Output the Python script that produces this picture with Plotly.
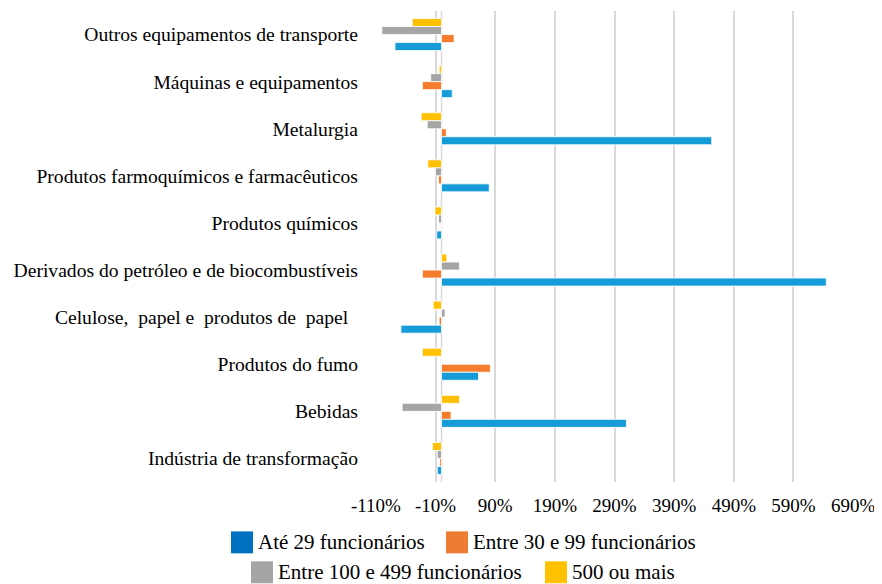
import plotly.graph_objects as go

categories = [
    "Outros equipamentos de transporte",
    "Máquinas e equipamentos",
    "Metalurgia",
    "Produtos farmoquímicos e farmacêuticos",
    "Produtos químicos",
    "Derivados do petróleo e de biocombustíveis",
    "Celulose,\u00a0 papel e\u00a0 produtos de\u00a0 papel\u00a0\u00a0",
    "Produtos do fumo",
    "Bebidas",
    "Indústria de transformação",
]

series_names = [
    "Até 29 funcionários",
    "Entre 30 e 99 funcionários",
    "Entre 100 e 499 funcionários",
    "500 ou mais",
]

ate_29 = [-78, 18, 453, 80, -8, 645, -68, 62, 310, -7]
entre_30_99 = [21, -32, 8, -5, 0, -32, -4, 82, 16, -3]
entre_100_499 = [-100, -18, -24, -10, -5, 30, 6, 0, -66, -7]
mais_500 = [-49, -4, -34, -23, -11, 9, -14, -32, 30, -15]

tick_vals = [-110, -10, 90, 190, 290, 390, 490, 590, 690]
tick_text = ["-110%", "-10%", "90%", "190%", "290%", "390%", "490%", "590%", "690%"]

bar_colors = ["#159BD8", "#F47C2C", "#A5A5A5", "#FFC000"]
legend_colors = ["#0070C0", "#ED7D31", "#A5A5A5", "#FFC000"]

values = [ate_29, entre_30_99, entre_100_499, mais_500]

fig = go.Figure()
# top of each group: 500 ou mais, then 100-499, 30-99, Até 29 (axis reversed)
for i in [3, 2, 1, 0]:
    fig.add_trace(go.Bar(
        y=categories, x=values[i], orientation="h", name=series_names[i],
        marker=dict(color=bar_colors[i], line=dict(color="rgba(255,255,255,0.8)", width=1)),
        showlegend=False,
    ))

FONT = "Liberation Serif"

# page body has an 8px margin: work in figure coordinates
OFF = 8
FW, FH = 882 - OFF, 584 - OFF
L, R, T, B = 375 - OFF, 854 - OFF, 10.5 - OFF, 482.5 - OFF
W, H = R - L, B - T


def px(xp):
    return (xp - OFF - L) / W


def py(yp):
    return (B - (yp - OFF)) / H


shapes = []
annotations = []
legend_items = [
    (0, 231, 532, 22),
    (1, 446, 532, 22),
    (2, 251, 562, 22),
    (3, 545, 562, 22),
]
for idx, x0, y0, s in legend_items:
    shapes.append(dict(type="rect", xref="paper", yref="paper",
                       x0=px(x0), x1=px(x0 + s), y0=py(y0 + s), y1=py(y0),
                       fillcolor=legend_colors[idx], line=dict(width=0)))
    annotations.append(dict(xref="paper", yref="paper", x=px(x0 + s + 4), y=py(y0 + s / 2),
                            xanchor="left", yanchor="middle", showarrow=False,
                            borderpad=0,
                            text=series_names[idx], font=dict(family=FONT, size=21, color="#000")))

# zero line
shapes.append(dict(type="line", xref="x", yref="paper", x0=0, x1=0, y0=0, y1=1,
                   line=dict(color="#D9D9D9", width=1.5), layer="below"))

fig.update_layout(
    width=FW, height=FH,
    margin=dict(l=L, r=FW - R, t=T, b=FH - B, autoexpand=False),
    paper_bgcolor="white", plot_bgcolor="white",
    barmode="group", bargap=0.32, bargroupgap=0,
    font=dict(family=FONT, size=20, color="#000"),
    shapes=shapes, annotations=annotations,
    xaxis=dict(range=[-111.5, 691.5], tickvals=tick_vals, ticktext=tick_text,
               showgrid=True, gridcolor="#D9D9D9", gridwidth=1.5,
               zeroline=False, showline=False, ticks="", automargin=False,
               ticklabelstandoff=10, tickfont=dict(family=FONT, size=19)),
    yaxis=dict(autorange="reversed", showgrid=False, zeroline=False, showline=False,
               ticks="", automargin=False, ticklabelstandoff=16,
               tickfont=dict(family=FONT, size=19.6)),
)

fig.write_html("out.html")
